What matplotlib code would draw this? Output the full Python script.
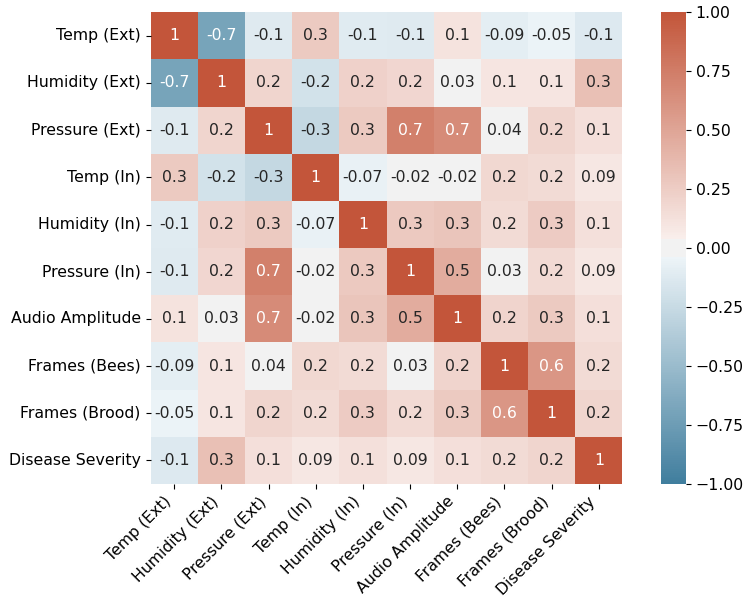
import colorsys
import numpy as np
import pandas as pd
import matplotlib
matplotlib.use("Agg")
import matplotlib.pyplot as plt
from matplotlib.colors import LinearSegmentedColormap
import seaborn as sns
from seaborn.external import husl

features = ["Temp (Ext)", "Humidity (Ext)", "Pressure (Ext)", "Temp (In)",
            "Humidity (In)", "Pressure (In)", "Audio Amplitude",
            "Frames (Bees)", "Frames (Brood)", "Disease Severity"]

temp_ext = [1, -0.69, -0.12, 0.27, -0.11, -0.12, 0.11, -0.09, -0.05, -0.13]
hum_ext = [-0.69, 1, 0.2, -0.19, 0.22, 0.19, 0.03, 0.1, 0.1, 0.33]
pres_ext = [-0.12, 0.2, 1, -0.27, 0.27, 0.73, 0.66, 0.035, 0.2, 0.14]
temp_in = [0.27, -0.19, -0.27, 1, -0.07, -0.02, -0.02, 0.18, 0.16, 0.09]
hum_in = [-0.11, 0.22, 0.27, -0.07, 1, 0.28, 0.3, 0.16, 0.26, 0.13]
pres_in = [-0.12, 0.19, 0.73, -0.02, 0.28, 1, 0.46, 0.03, 0.17, 0.09]
audio = [0.11, 0.03, 0.66, -0.02, 0.3, 0.46, 1, 0.21, 0.27, 0.14]
frames_bees = [-0.09, 0.1, 0.035, 0.18, 0.16, 0.03, 0.21, 1, 0.59, 0.16]
frames_brood = [-0.05, 0.1, 0.2, 0.16, 0.26, 0.17, 0.27, 0.59, 1, 0.2]
disease = [-0.13, 0.33, 0.14, 0.09, 0.13, 0.09, 0.14, 0.16, 0.2, 1]

corr = pd.DataFrame([temp_ext, hum_ext, pres_ext, temp_in, hum_in, pres_in,
                     audio, frames_bees, frames_brood, disease],
                    index=features, columns=features)


def ramp(h, n, reverse=False):
    # husl base colour fading to a light tint of the same hue
    rgb = np.array(husl.husl_to_rgb(h, 75, 50))
    hh, _, ss = colorsys.rgb_to_hls(*rgb)
    light = np.array(colorsys.hls_to_rgb(hh, 0.95, ss))
    t = np.linspace(0, 1, n)[:, None]
    cols = light + (rgb - light) * t
    return cols[::-1] if reverse else cols


sep = 10
n_half = 128 - sep // 2
colors = np.vstack([ramp(232, n_half, reverse=True),
                    np.tile([0.95, 0.95, 0.95], (sep, 1)),
                    ramp(20, n_half)])
cmap = LinearSegmentedColormap.from_list("div", colors)

plt.rcParams["font.size"] = 11.3

fig = plt.figure(figsize=(7.46, 5.98), dpi=100)
ax = fig.add_axes([0.2011, 0.1906, 0.634, 0.789])
cax = fig.add_axes([0.886, 0.1906, 0.0335, 0.789])

sns.heatmap(corr, vmin=-1, vmax=1, cmap=cmap, annot=True, fmt=".1g",
            square=True, ax=ax, cbar_ax=cax)

ax.set_xticklabels(ax.get_xticklabels(), rotation=45, ha="right")
ax.set_yticklabels(ax.get_yticklabels(), rotation=0)

plt.savefig("out.png", dpi=100)
